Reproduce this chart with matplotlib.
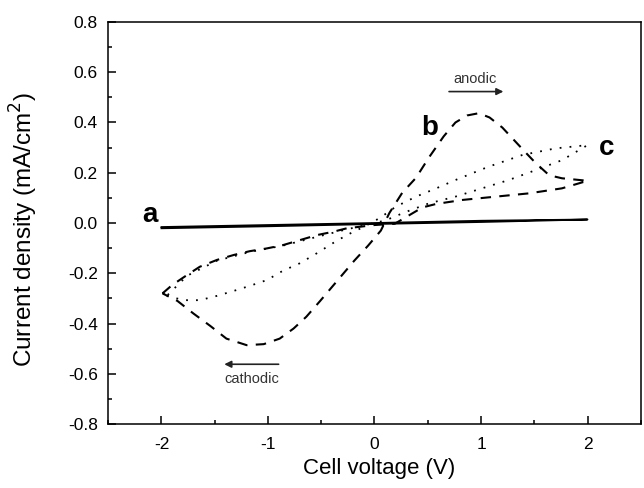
import matplotlib
matplotlib.use("Agg")
import matplotlib.pyplot as plt
from matplotlib.ticker import MultipleLocator

plt.rcParams['font.family'] = ['Liberation Sans', 'DejaVu Sans']
plt.rcParams['axes.unicode_minus'] = False

# curve a: thin, almost flat loop (solid)
a_v = [-2.0, -1.0, 0.0, 1.0, 2.0, 1.0, 0.0, -1.0, -2.0]
a_j = [-0.021, -0.013, -0.004, 0.004, 0.014, 0.009, 0.0, -0.008, -0.016]

# curve b: dashed loop with anodic peak and cathodic minimum
b_v = [-1.99, -1.90, -1.76, -1.64, -1.48, -1.32, -1.17, -1.01, -0.86, -0.70,
       -0.54, -0.39, -0.26, 0.0, 0.19, 0.33, 0.45, 0.58, 0.83, 1.14, 1.45,
       1.76, 2.0,
       1.76, 1.64, 1.51, 1.42, 1.31, 1.20, 1.08, 0.98, 0.87, 0.76, 0.65, 0.51,
       0.39, 0.26, 0.14, 0.06, -0.06, -0.19, -0.26, -0.39, -0.51, -0.64, -0.76,
       -0.89, -1.04, -1.20, -1.39, -1.54, -1.70, -1.85, -1.99]
b_j = [-0.28, -0.247, -0.207, -0.174, -0.147, -0.127, -0.112, -0.101, -0.088, -0.068,
       -0.048, -0.035, -0.021, -0.008, -0.003, 0.032, 0.062, 0.076, 0.092, 0.105, 0.118,
       0.138, 0.168,
       0.178, 0.19, 0.24, 0.28, 0.33, 0.38, 0.42, 0.437, 0.428, 0.40, 0.345, 0.26,
       0.18, 0.12, 0.04, -0.03, -0.09, -0.15, -0.185, -0.25, -0.31, -0.373, -0.42,
       -0.46, -0.482, -0.486, -0.46, -0.41, -0.36, -0.31, -0.28]

# curve c: dotted loop
c_v = [-1.95, -1.79, -1.64, -1.48, -1.32, -1.17, -1.01, -0.86, -0.70, -0.54,
       -0.39, -0.26, -0.10, 0.05, 0.20, 0.39, 0.58, 0.76, 1.07, 1.39, 1.70, 2.0,
       1.76, 1.51, 1.26, 1.01, 0.76, 0.51, 0.30, 0.10, -0.10, -0.26, -0.54,
       -0.86, -1.17, -1.48, -1.76, -1.95]
c_j = [-0.29, -0.307, -0.307, -0.29, -0.27, -0.25, -0.227, -0.19, -0.16, -0.12,
       -0.08, -0.048, -0.015, 0.02, 0.065, 0.105, 0.138, 0.171, 0.224, 0.271, 0.297, 0.31,
       0.25, 0.21, 0.171, 0.138, 0.105, 0.078, 0.045, 0.01, -0.01, -0.025, -0.055,
       -0.09, -0.115, -0.15, -0.21, -0.29]

xticks = [-2, -1, 0, 1, 2]
yticks = [-0.8, -0.6, -0.4, -0.2, 0.0, 0.2, 0.4, 0.6, 0.8]

fig = plt.figure(figsize=(6.44, 4.88), dpi=100)
ax = fig.add_axes([0.168, 0.131, 0.827, 0.824])

ax.plot(a_v, a_j, color='black', lw=1.3)
ax.plot(b_v, b_j, color='black', lw=1.5, dashes=(5, 4))
ax.plot(c_v, c_j, color='black', lw=1.3, dashes=(1, 4.5))

ax.text(-2.11, 0.032, 'a', fontsize=20, fontweight='bold', ha='center', va='center')
ax.text(0.52, 0.377, 'b', fontsize=20, fontweight='bold', ha='center', va='center')
ax.text(2.18, 0.297, 'c', fontsize=20, fontweight='bold', ha='center', va='center')

# sweep direction arrows
ax.annotate('', xy=(1.21, 0.523), xytext=(0.70, 0.523),
            arrowprops=dict(arrowstyle='-|>', color='#222222', lw=1.2,
                            mutation_scale=10, shrinkA=0, shrinkB=0))
ax.text(0.94, 0.572, 'anodic', fontsize=10.5, color='#333333', ha='center', va='center')
ax.annotate('', xy=(-1.41, -0.562), xytext=(-0.90, -0.562),
            arrowprops=dict(arrowstyle='-|>', color='#222222', lw=1.2,
                            mutation_scale=10, shrinkA=0, shrinkB=0))
ax.text(-1.15, -0.62, 'cathodic', fontsize=10.5, color='#333333', ha='center', va='center')

ax.set_xlim(-2.5, 2.5)
ax.set_ylim(-0.8, 0.8)
ax.xaxis.set_minor_locator(MultipleLocator(0.5))
ax.yaxis.set_minor_locator(MultipleLocator(0.1))
ax.set_xticks(xticks)
ax.set_xticklabels([str(t) for t in xticks])
ax.set_yticks(yticks)
ax.set_yticklabels(['%.1f' % t for t in yticks])

ax.tick_params(which='both', direction='in', top=False, right=False, width=1.1)
ax.tick_params(which='major', length=6, labelsize=12.5)
ax.tick_params(axis='y', which='major', pad=7.5)
ax.tick_params(axis='x', which='major', pad=9)
ax.tick_params(which='minor', length=3)
for sp in ax.spines.values():
    sp.set_linewidth(1.1)

ax.set_xlabel('Cell voltage (V)', fontsize=16)
ax.set_ylabel('Current density (mA/cm$^2$)', fontsize=17.5)
ax.xaxis.set_label_coords(0.508, -0.085)
ax.yaxis.set_label_coords(-0.128, 0.483)

fig.savefig('out.png', dpi=100)
